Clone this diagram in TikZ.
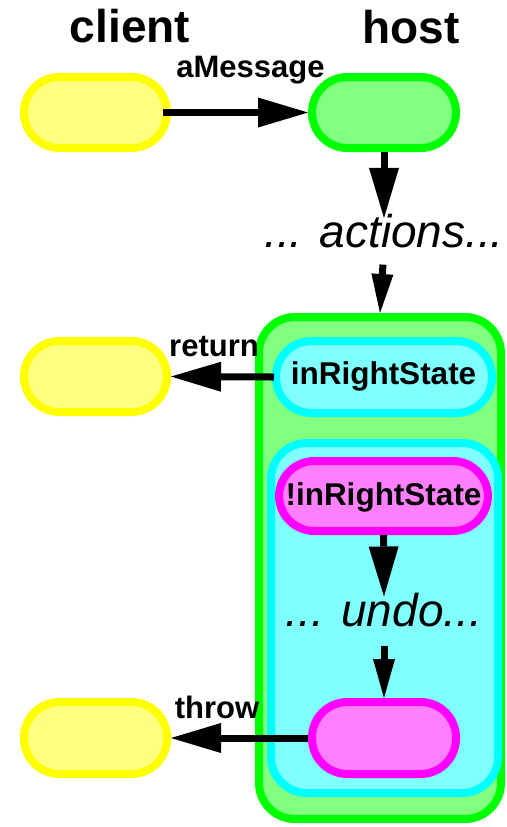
\documentclass[tikz,border=0pt]{standalone}
\usepackage{fontspec}
\setmainfont{Liberation Sans}
\usetikzlibrary{arrows.meta}
\definecolor{ylwS}{HTML}{FFFF00}
\definecolor{ylwF}{HTML}{FFFF80}
\definecolor{grnS}{HTML}{00FF00}
\definecolor{grnF}{HTML}{80FF80}
\definecolor{cynS}{HTML}{00FFFF}
\definecolor{cynF}{HTML}{80FFFF}
\definecolor{magS}{HTML}{FF00FF}
\definecolor{magF}{HTML}{FF80FF}
\begin{document}
\begin{tikzpicture}[x=1pt,y=-1pt,
  pill/.style={draw, line width=8pt, rounded corners=35.5pt, minimum width=#1, minimum height=71pt, inner sep=0pt},
  box/.style={draw, line width=8pt, rounded corners=36pt, inner sep=0pt},
  yel/.style={draw=ylwS, fill=ylwF},
  grn/.style={draw=grnS, fill=grnF},
  cyn/.style={draw=cynS, fill=cynF},
  mag/.style={draw=magS, fill=magF},
  big/.style={font=\fontsize{46}{50}\selectfont\bfseries, anchor=base, inner sep=0pt},
  lbl/.style={font=\fontsize{31}{34}\selectfont\bfseries, anchor=base, inner sep=0pt},
  ital/.style={font=\fontsize{46}{50}\selectfont\itshape, anchor=base, inner sep=0pt},
  inlbl/.style={font=\fontsize{31.5}{34}\selectfont\bfseries},
  arrbig/.style={line width=7pt, -{Triangle[length=50pt,width=30pt,line width=0pt]}},
  arrsmall/.style={line width=7pt, -{Triangle[length=39pt,width=22pt,line width=0pt]}}
]
\useasboundingbox (0,0) rectangle (506,827);

% titles
\node[big] (clientlbl) at (130,42) {client};
\node[big] (hostlbl) at (411,43) {host};

% top row
\node[pill=143pt, yel] (c1) at (95.5,112.5) {};
\node[pill=144pt, grn] (h1) at (384,112.5) {};

% big green box and inner cyan box
\node[box, grn, minimum width=242pt, minimum height=502pt] (hostbox) at (380,568) {};
\node[pill=216pt, cyn, minimum height=72pt] (irs) at (384,377) {\hspace*{0pt}};
\node[inlbl, anchor=base] (irstxt) at (383.5,384) {inRightState};
\node[box, cyn, minimum width=227pt, minimum height=350pt] (undobox) at (384.5,618) {};
\node[pill=209pt, mag, minimum height=70pt] (nirs) at (383.5,496) {};
\node[inlbl, anchor=base] (nirstxt) at (383.5,505) {!inRightState};
\node[pill=144pt, mag, minimum height=72pt] (m2) at (384,738) {};

% left column clients
\node[pill=143pt, yel] (c2) at (95.5,376.5) {};
\node[pill=143pt, yel, minimum height=72pt] (c3) at (95.5,738) {};

% italic texts
\node[ital] (actions) at (384,247) {... actions...};
\node[ital] (undo) at (384,626) {... undo...};

% labels
\node[lbl] (amsg) at (250.5,77) {aMessage};
\node[lbl] (ret) at (214,356) {return};
\node[lbl] (thr) at (217,718) {throw};

% connectors
\draw[arrbig, shorten <=-8pt] (c1.east) -- (h1.west);
\draw[arrbig] (h1.south) -- ([yshift=-4.5pt]actions.north);
\draw[arrsmall, shorten <=17pt] (actions.south) -- (hostbox.north);
\draw[arrbig, shorten <=-2pt] (irs.west) -- (c2.east);
\draw[arrbig] (nirs.south) -- ([yshift=-4pt]undo.north);
\draw[arrsmall, shorten <=19pt] (undo.south) -- (m2.north);
\draw[arrbig] (m2.west) -- (c3.east);
\end{tikzpicture}
\end{document}
